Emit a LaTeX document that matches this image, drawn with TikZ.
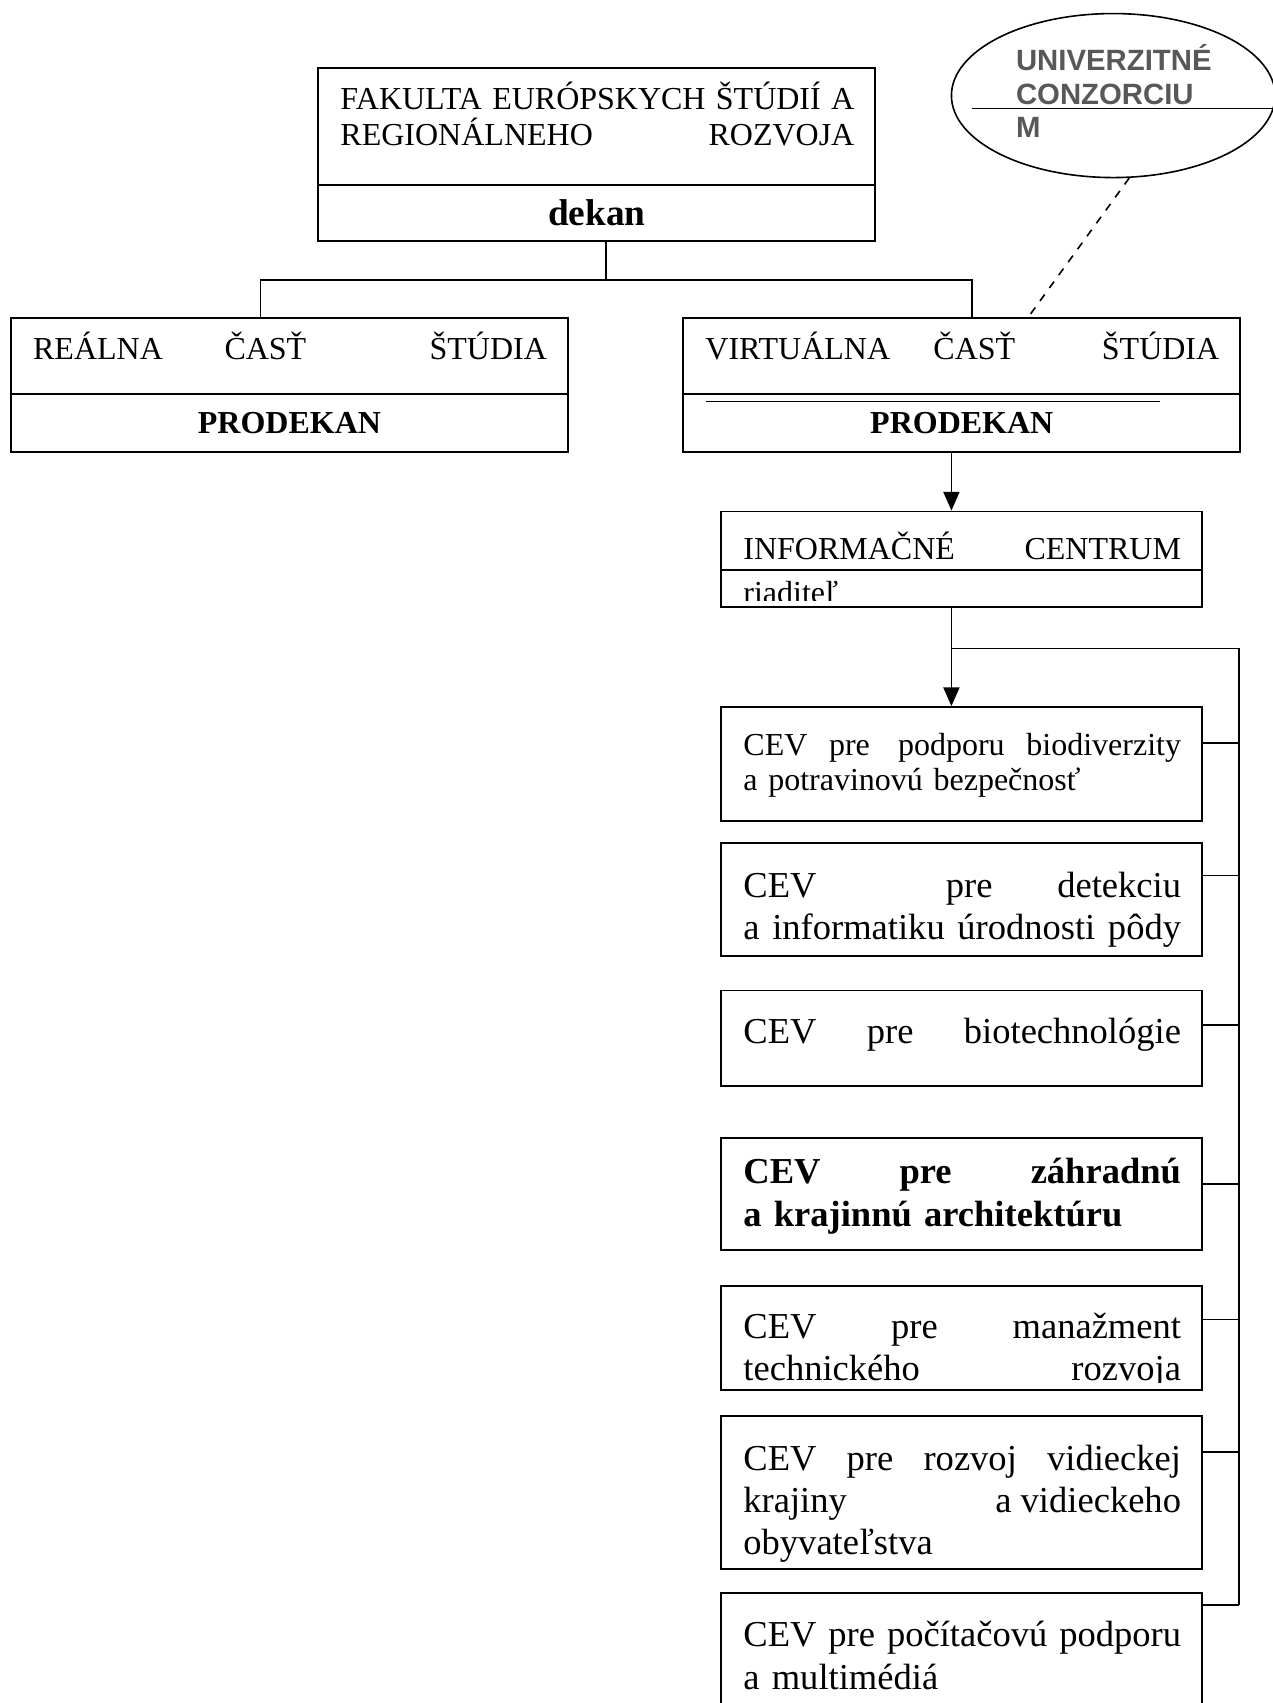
\documentclass[tikz,border=0pt]{standalone}
\usepackage{fontspec}
\setmainfont{Liberation Serif}
\newfontfamily\konzfont{Liberation Sans}
\usetikzlibrary{arrows.meta,shapes.geometric}

\definecolor{konzgray}{RGB}{88,88,88}
\newcommand\twelve{\fontsize{12}{13.4}\selectfont}
\newcommand\fourteen{\fontsize{13.7}{16}\selectfont}
\newcommand\wide[2]{\makebox[#1][s]{\spaceskip=0pt\xspaceskip=0pt\relax #2}}

\tikzset{
	box/.style 2 args={draw, rectangle, line width=0.7pt, inner sep=0pt,
		minimum width=#1*0.4073pt, minimum height=#2*0.4073pt},
	txt/.style={anchor=base west, inner sep=0pt, align=left},
	conn/.style={line width=0.6pt},
	arr/.style={conn, -{Triangle[length=7pt,width=6pt]}}
}

\begin{document}
\begin{tikzpicture} [x=0.4073pt, y=-0.4073pt, font=\twelve]

			\useasboundingbox (0,0) rectangle (1172,1568);

			\node [box={513}{107}] (fak) at (549.5,116.5) {};
			\node [box={513}{52}, font=\bfseries\fontsize{14}{16}\selectfont] (dekan) at (549.5,196) {dekan};
			\node [txt, text width=192.7pt] (fakt) at (313,101)
				{\wide{\linewidth}{FAKULTA EURÓPSKYCH ŠTÚDIÍ A}\\
				 \wide{\linewidth}{REGIONÁLNEHO\hfill ROZVOJA}};

			\node [box={513}{70}] (real) at (266.5,328) {};
			\node [box={513}{53}, font=\bfseries\twelve] (realpro) at (266.5,389.5) {PRODEKAN};
			\node [txt] (realt) at (30,331)
				{\wide{192.7pt}{REÁLNA\hspace{\stretch{1}}ČASŤ\hspace{\stretch{2}}ŠTÚDIA}};

			\node [box={513}{70}] (virt) at (885.5,328) {};
			\node [box={513}{53}, font=\bfseries\twelve] (virtpro) at (885.5,389.5) {PRODEKAN};
			\node [txt] (virtt) at (649,331)
				{\wide{192.7pt}{VIRTUÁLNA\hspace{\stretch{1}}ČASŤ\hspace{\stretch{2}}ŠTÚDIA}};
			\draw [line width=0.4pt] (650,370) -- (1068,370);

			\node [draw, ellipse, line width=0.6pt, inner sep=0pt,
				minimum width=298*0.4073pt, minimum height=151*0.4073pt] (konz) at (1025,88) {};
			\draw [line width=0.6pt] (895,100) -- (konz.east |- 0,100);
			\node [txt, text width=90pt, text=konzgray, font=\konzfont\bfseries\fontsize{11}{12.6}\selectfont] (konzt)
				at (935,65) {UNIVERZITNÉ\\CONZORCIU\\M};

			\node [box={443}{54}] (info) at (885.5,498) {};
			\node [box={443}{34}] (riad) at (885.5,542) {};
			\node [txt] (infot) at (684,515) {\wide{164.1pt}{INFORMAČNÉ\hfill CENTRUM}};
			\begin{scope}
				\clip (664,525) rectangle (1107,553);
				\node [txt] (riadt) at (684,556) {riaditeľ};
			\end{scope}

			\node [box={443}{105}] (cev1) at (885.5,703.5) {};
			\node [box={443}{104}] (cev2) at (885.5,828) {};
			\node [box={443}{88}] (cev3) at (885.5,956) {};
			\node [box={443}{103}] (cev4) at (885.5,1099.5) {};
			\node [box={443}{96}] (cev5) at (885.5,1232) {};
			\node [box={443}{141}] (cev6) at (885.5,1374.5) {};
			\node [box={443}{140}] (cev7) at (885.5,1537) {};

			\node [txt, text width=164.1pt, font=\fontsize{12}{13}\selectfont] (cev1t) at (684,696)
				{\wide{\linewidth}{CEV\hspace{\stretch{1}}pre\hspace{\stretch{1.3}}podporu\hspace{\stretch{1}}biodiverzity}\\
				 a potravinovú bezpečnosť};
			\node [txt, text width=164.1pt, font=\fourteen] (cev2t) at (684,826)
				{\wide{\linewidth}{CEV\hspace{\stretch{2}}pre\hspace{\stretch{1}}detekciu}\\
				 \wide{\linewidth}{a informatiku úrodnosti pôdy}};
			\node [txt, font=\fourteen] (cev3t) at (684,961)
				{\wide{164.1pt}{CEV pre biotechnológie}};
			\node [txt, text width=164.1pt, font=\bfseries\fourteen] (cev4t) at (684,1090)
				{\wide{\linewidth}{CEV pre záhradnú}\\
				 a krajinnú architektúru};
			\begin{scope}
				\clip (664,1184) rectangle (1107,1273);
				\node [txt, text width=164.1pt, font=\fourteen] (cev5t) at (684,1232)
					{\wide{\linewidth}{CEV pre manažment}\\
					 \wide{\linewidth}{technického\hfill rozvoja}};
			\end{scope}
			\node [txt, text width=164.1pt, font=\fontsize{13.7}{15.7}\selectfont] (cev6t) at (684,1354)
				{\wide{\linewidth}{CEV pre rozvoj vidieckej}\\
				 \wide{\linewidth}{krajiny\hfill a vidieckeho}\\
				 obyvateľstva};
			\node [txt, text width=164.1pt, font=\fourteen] (cev7t) at (684,1516)
				{\wide{\linewidth}{CEV pre počítačovú podporu}\\
				 a multimédiá};

			\coordinate (split) at (558,258);
			\coordinate (lj) at (240,258);
			\coordinate (rj) at (895,258);
			\draw [conn] (split |- dekan.south) -- (split);
			\draw [conn] (lj |- real.north) -- (lj) -- (rj) -- (rj |- virt.north);

			\coordinate (dashend) at (946,293);
			\draw [conn, dashed] (konz.-79) -- (dashend);

			\coordinate (trunk) at (876,597);
			\coordinate (bus) at (1141,597);
			\draw [arr] (trunk |- virtpro.south) -- (trunk |- info.north);
			\draw [conn] (trunk |- riad.south) -- (trunk) -- (bus) -- (bus |- 0,1478);
			\draw [arr] (trunk) -- (trunk |- cev1.north);
			\foreach \n/\ty in {1/684, 2/806, 3/944, 4/1090, 5/1215, 6/1337, 7/1478}
				\draw [conn] (cev\n.east |- 0,\ty) -- (bus |- 0,\ty);
		\end{tikzpicture}
\end{document}
